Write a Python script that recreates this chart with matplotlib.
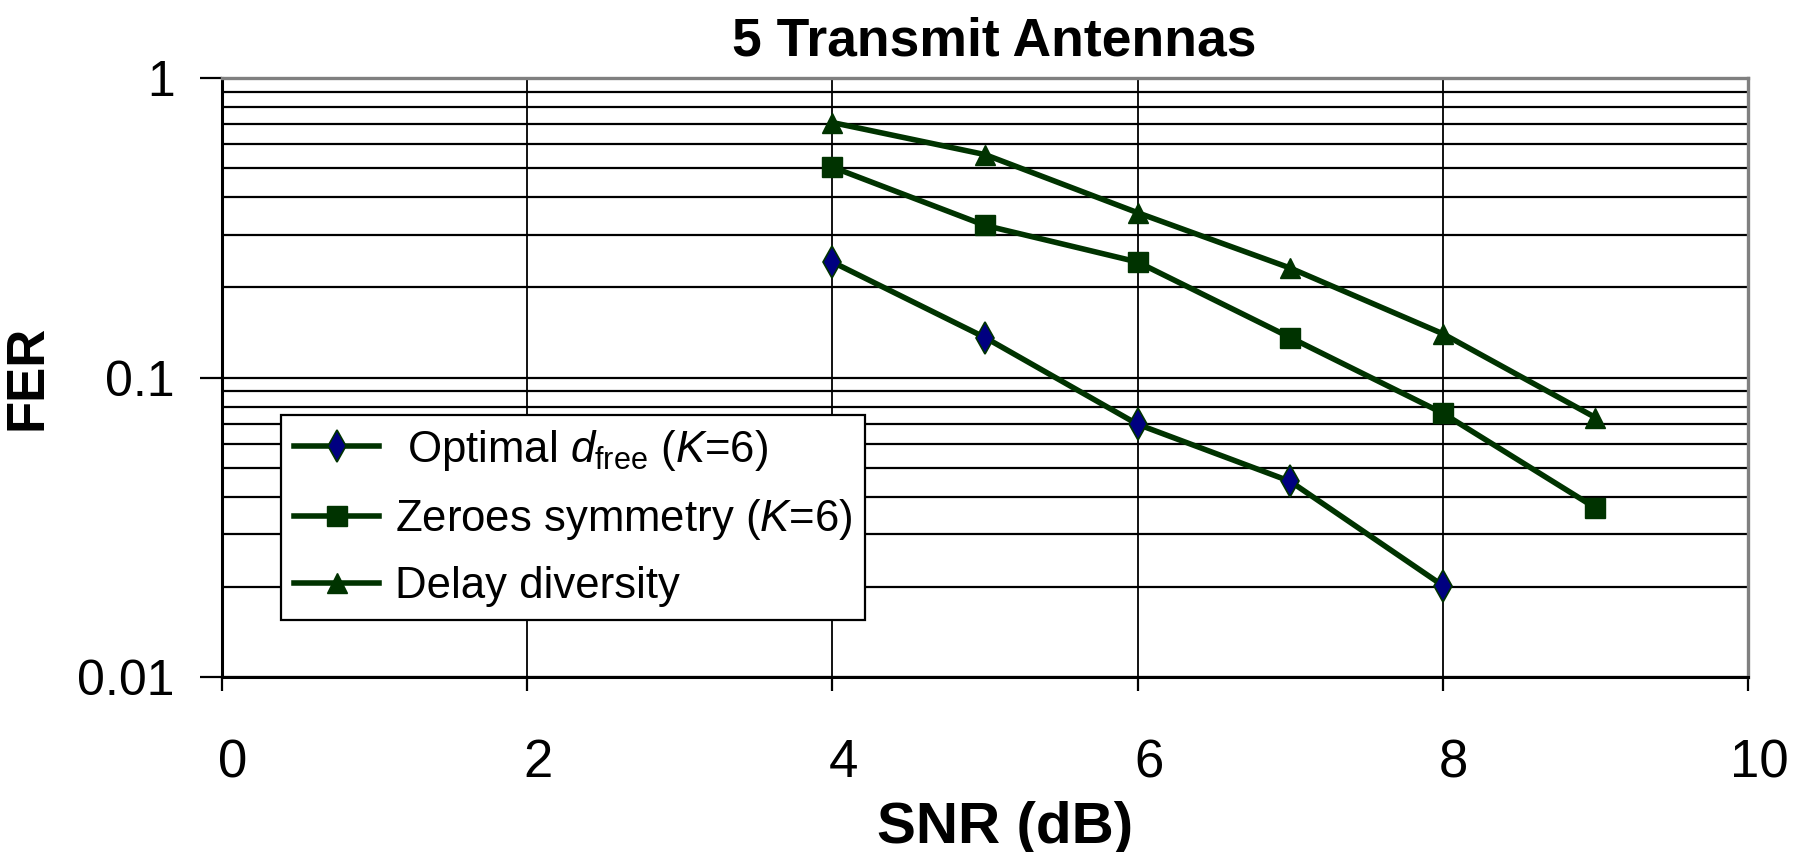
import matplotlib
matplotlib.use("Agg")
import matplotlib.pyplot as plt
from matplotlib.ticker import FixedLocator, NullFormatter
import matplotlib.transforms as mtransforms

plt.rcParams['font.family'] = ['Liberation Sans', 'DejaVu Sans']
plt.rcParams['mathtext.fontset'] = 'custom'
plt.rcParams['mathtext.rm'] = 'Liberation Sans'
plt.rcParams['mathtext.it'] = 'Liberation Sans:italic'
plt.rcParams['mathtext.bf'] = 'Liberation Sans:bold'

# ---- data ----
snr_optimal = [4, 5, 6, 7, 8]
fer_optimal = [0.243, 0.136, 0.0698, 0.045, 0.0202]

snr_zeroes = [4, 5, 6, 7, 8, 9]
fer_zeroes = [0.504, 0.322, 0.243, 0.136, 0.076, 0.0367]

snr_delay = [4, 5, 6, 7, 8, 9]
fer_delay = [0.71, 0.555, 0.355, 0.232, 0.140, 0.0735]

labels = [r" Optimal $d_{\mathrm{free}}$ ($K$=6)",
          r"Zeroes symmetry ($K$=6)",
          "Delay diversity"]

x_ticks = [0, 2, 4, 6, 8, 10]
x_ticklabels = ["0", "2", "4", "6", "8", "10"]
y_ticks = [0.01, 0.1, 1]
y_ticklabels = ["0.01", "0.1", "1"]
y_minor = [m * d for d in (0.01, 0.1) for m in range(2, 10)]

title = "5 Transmit Antennas"
xlabel = "SNR (dB)"
ylabel = "FER"

# ---- figure ----
W, H = 1798, 852
fig = plt.figure(figsize=(W / 100, H / 100), dpi=100)
ax = fig.add_axes([222 / W, 1 - 677 / H, (1748 - 222) / W, (677 - 78) / H])

green = "#003300"
navy = "#000080"

ax.plot(snr_optimal, fer_optimal, color=green, lw=4, marker="d",
        markersize=16, markerfacecolor=navy, markeredgecolor=green,
        markeredgewidth=1.2, label=labels[0], zorder=3)
ax.plot(snr_zeroes, fer_zeroes, color=green, lw=4, marker="s",
        markersize=14, markerfacecolor=green, markeredgecolor=green,
        label=labels[1], zorder=3)
ax.plot(snr_delay, fer_delay, color=green, lw=4, marker="^",
        markersize=14.5, markerfacecolor=green, markeredgecolor=green,
        label=labels[2], zorder=3)

ax.set_yscale("log")
ax.set_xlim(0, 10)
ax.set_ylim(0.01, 1)

ax.yaxis.set_major_locator(FixedLocator(y_ticks))
ax.set_yticklabels(y_ticklabels)
ax.yaxis.set_minor_locator(FixedLocator(y_minor))
ax.yaxis.set_minor_formatter(NullFormatter())
ax.set_xticks(x_ticks)
ax.set_xticklabels(x_ticklabels)

ax.set_axisbelow(True)
ax.grid(True, axis="y", which="both", color="black", lw=1.6)
ax.grid(True, axis="x", which="major", color="black", lw=1.3)

for s in ("left", "bottom"):
    ax.spines[s].set_color("black")
    ax.spines[s].set_linewidth(2.2)
for s in ("top", "right"):
    ax.spines[s].set_color("#808080")
    ax.spines[s].set_linewidth(2.4)

ax.tick_params(axis="y", which="major", direction="out", length=16, width=1.6,
               pad=18, labelsize=36)
ax.tick_params(axis="y", which="minor", length=0)
ax.tick_params(axis="x", which="major", direction="out", length=10, width=1.6,
               pad=34, labelsize=38)

offset = mtransforms.ScaledTranslation(11 / 100, 0, fig.dpi_scale_trans)
for lab in ax.get_xticklabels():
    lab.set_transform(lab.get_transform() + offset)

t = ax.set_title(title, fontsize=38.5, fontweight="bold", pad=16)
t.set_x(0.506)
ax.set_xlabel(xlabel, fontsize=42, fontweight="bold", labelpad=9)
ax.xaxis.label.set_x(0.513)
ax.set_ylabel(ylabel, fontsize=38, fontweight="bold")
ax.yaxis.set_label_coords(-0.111, 0.5)

leg = ax.legend(loc="lower left", bbox_to_anchor=((281 - 222) / 1526, (677 - 620) / 599),
                borderaxespad=0, fontsize=31.5, frameon=True, fancybox=False,
                edgecolor="black", framealpha=1, handlelength=1.95,
                handletextpad=0.35, labelspacing=0.55, borderpad=0.3)
leg.get_frame().set_linewidth(1.6)

fig.savefig("out.png", dpi=100, facecolor="white")
